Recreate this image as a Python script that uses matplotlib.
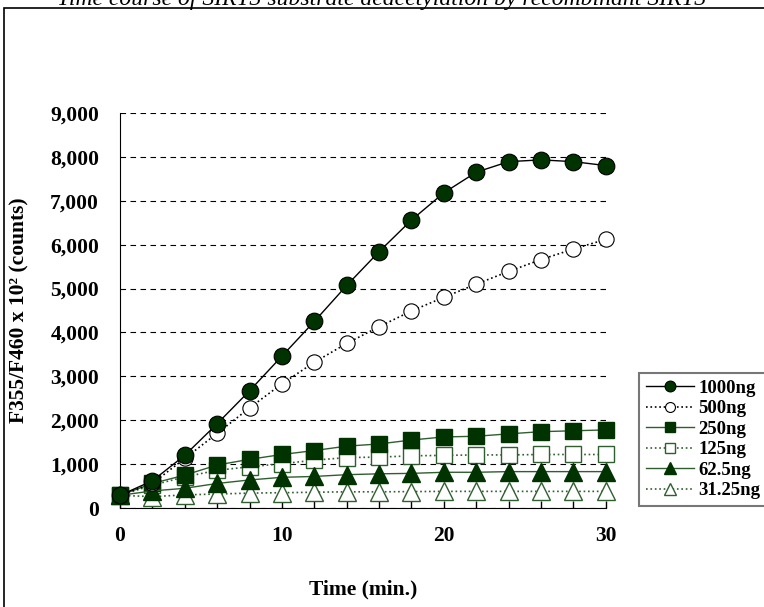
import matplotlib
matplotlib.use('Agg')
import matplotlib.pyplot as plt
from matplotlib.patches import Rectangle

# Datos
time_min = [0, 2, 4, 6, 8, 10, 12, 14, 16, 18, 20, 22, 24, 26, 28, 30]
ng_1000 = [290, 620, 1200, 1920, 2670, 3460, 4250, 5070, 5840, 6560, 7180, 7650, 7890, 7930, 7890, 7800]
ng_500 = [290, 560, 1130, 1700, 2280, 2830, 3320, 3750, 4130, 4490, 4800, 5100, 5390, 5660, 5900, 6120]
ng_250 = [290, 560, 750, 980, 1110, 1220, 1310, 1410, 1460, 1550, 1620, 1635, 1690, 1740, 1760, 1780]
ng_125 = [290, 520, 710, 860, 940, 1010, 1090, 1150, 1160, 1190, 1200, 1210, 1210, 1220, 1220, 1220]
ng_62_5 = [290, 390, 450, 560, 640, 700, 720, 760, 780, 790, 815, 815, 830, 830, 830, 830]
ng_31_25 = [290, 260, 300, 320, 340, 350, 360, 370, 370, 375, 380, 380, 380, 380, 380, 380]
y_ticks = [0, 1000, 2000, 3000, 4000, 5000, 6000, 7000, 8000, 9000]

dark = '#003300'
green = '#2f5f2f'

plt.rcParams['font.family'] = ['Liberation Serif', 'DejaVu Serif']

fig = plt.figure(figsize=(7.64, 6.07), dpi=100)
ax = fig.add_axes([0.157, 0.163, 0.636, 0.651])

# Series
ax.plot(time_min, ng_1000, color='black', linestyle='-', linewidth=1, marker='o',
        markersize=12, markerfacecolor=dark, markeredgecolor='black', markeredgewidth=0.8,
        label='1000ng', clip_on=False, zorder=6)
ax.plot(time_min, ng_500, color='black', linestyle=':', linewidth=1.2, marker='o',
        markersize=11, markerfacecolor='white', markeredgecolor='black', markeredgewidth=0.8,
        label='500ng', clip_on=False, zorder=5)
ax.plot(time_min, ng_250, color=green, linestyle='-', linewidth=1, marker='s',
        markersize=11.5, markerfacecolor=dark, markeredgecolor=dark,
        label='250ng', clip_on=False, zorder=4)
ax.plot(time_min, ng_125, color=green, linestyle=':', linewidth=1.2, marker='s',
        markersize=11, markerfacecolor='white', markeredgecolor=green, markeredgewidth=1,
        label='125ng', clip_on=False, zorder=3)
ax.plot(time_min, ng_62_5, color=green, linestyle='-', linewidth=1, marker='^',
        markersize=12.5, markerfacecolor=dark, markeredgecolor=dark,
        label='62.5ng', clip_on=False, zorder=4)
ax.plot(time_min, ng_31_25, color=green, linestyle=':', linewidth=1.2, marker='^',
        markersize=12.5, markerfacecolor='white', markeredgecolor=green, markeredgewidth=1,
        label='31.25ng', clip_on=False, zorder=3)

# Ejes
ax.set_xlim(0, 30)
ax.set_ylim(0, 9000)
ax.set_xticks(range(0, 31, 2))
ax.set_xticklabels([str(t) if t % 10 == 0 else '' for t in range(0, 31, 2)])
ax.set_yticks(y_ticks)
ax.set_yticklabels([f'{v:,}' for v in y_ticks])
ax.tick_params(axis='x', direction='in', length=5, width=1, pad=13, labelsize=15.5)
ax.tick_params(axis='y', length=0, pad=15, labelsize=15.5)
for lbl in ax.get_xticklabels() + ax.get_yticklabels():
    lbl.set_fontweight('bold')
ax.spines['top'].set_visible(False)
ax.spines['right'].set_visible(False)
ax.yaxis.grid(True, color='black', linestyle=(0, (5, 4)), linewidth=0.8)
ax.set_axisbelow(True)

ax.set_xlabel('Time (min.)', fontsize=15.5, fontweight='bold', labelpad=24)
ax.set_ylabel('F355/F460 x 10² (counts)', fontsize=15.5, fontweight='bold', labelpad=15)

# Leyenda
leg = fig.legend(loc='upper left', bbox_to_anchor=(639 / 764, 1 - 373 / 607),
                 prop={'weight': 'bold', 'size': 13.5}, frameon=True, fancybox=False,
                 handlelength=2.6, handletextpad=0.2, borderpad=0.35, labelspacing=0.18,
                 borderaxespad=0, markerscale=0.65)
leg.get_frame().set_edgecolor('#555555')
leg.get_frame().set_linewidth(1.5)

# Titulo cortado y marco exterior
fig.text(0.50, 1.0, 'Time course of SIRT3 substrate deacetylation by recombinant SIRT3',
         ha='center', va='center', fontsize=17, style='italic')
fig.add_artist(Rectangle((4 / 764, -0.1), 1.2, 1.1 - 8 / 607, transform=fig.transFigure,
                         fill=False, edgecolor='black', linewidth=1.2))

plt.savefig('out.png', dpi=100)
